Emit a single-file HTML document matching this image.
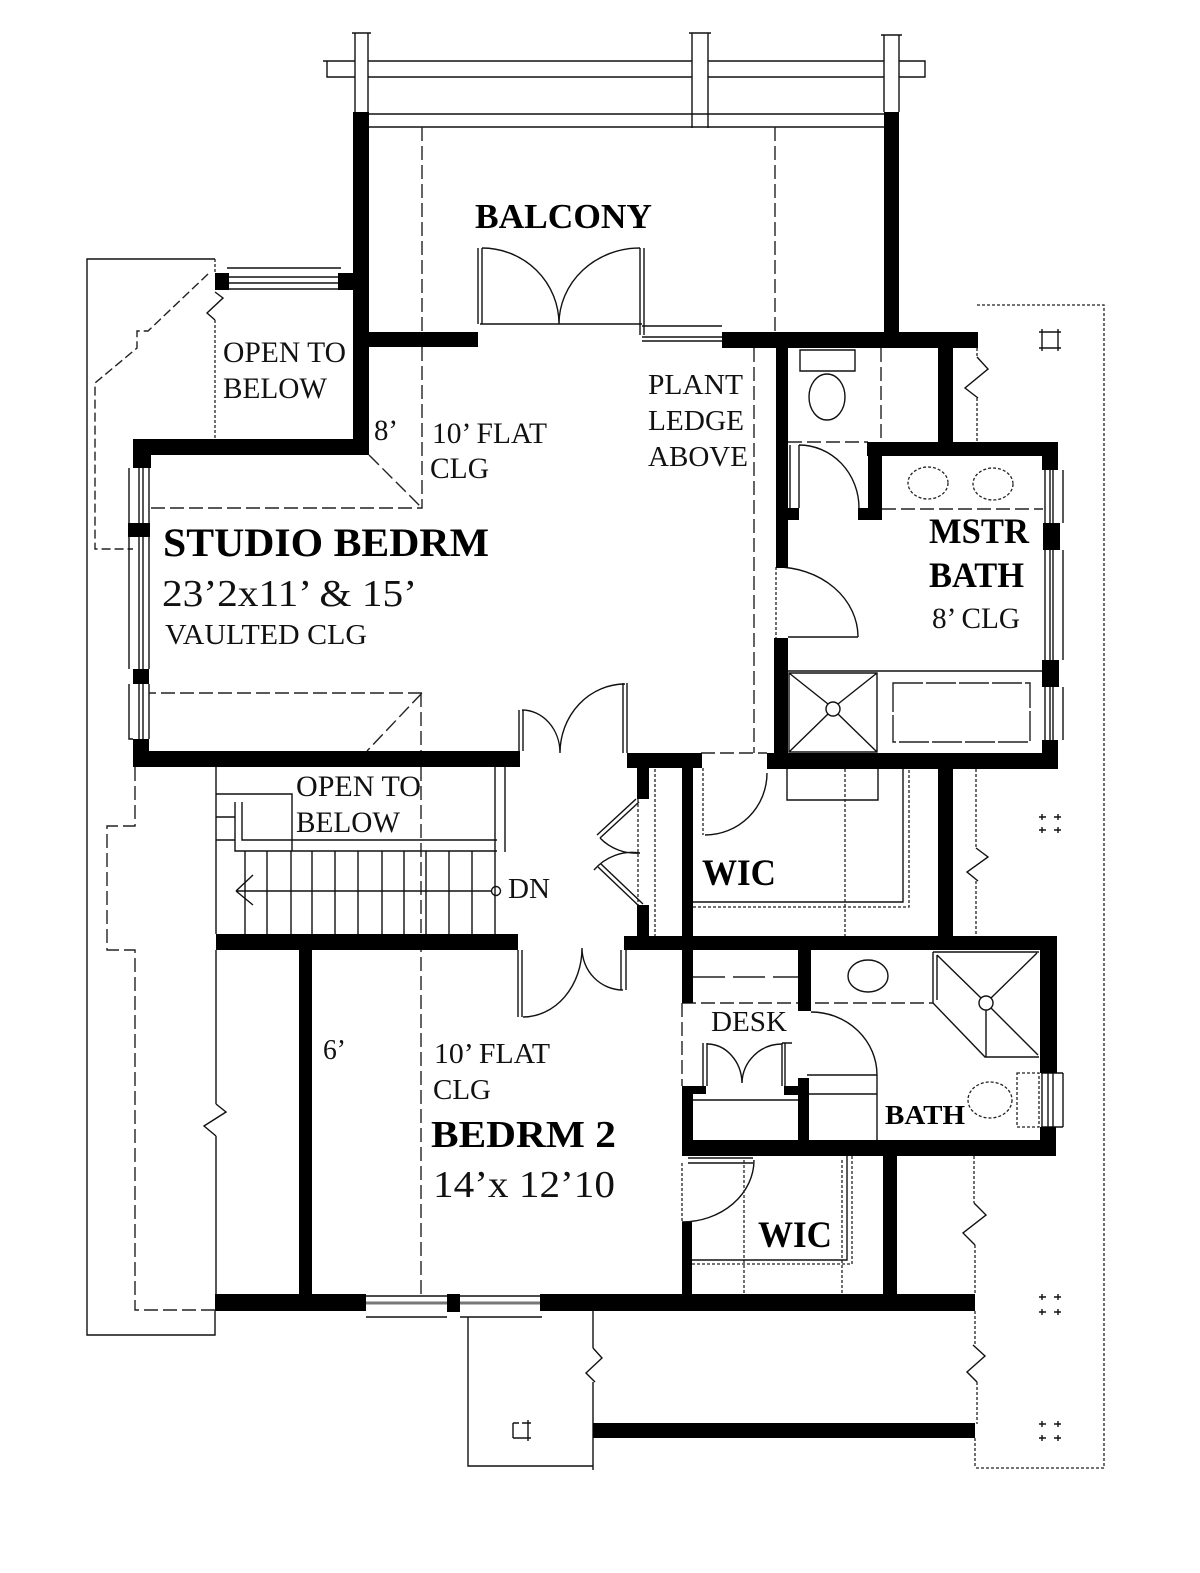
<!DOCTYPE html>
<html><head><meta charset="utf-8"><style>
html,body{margin:0;padding:0;background:#fff}
svg{display:block}
text{font-family:"Liberation Serif",serif;fill:#111}
.b{font-weight:bold;fill:#000}
.l{fill:none;stroke:#111;stroke-width:1.4}
.d{fill:none;stroke:#222;stroke-width:1.4;stroke-dasharray:14 5}
.s{fill:none;stroke:#222;stroke-width:1.3;stroke-dasharray:3 2}
</style></head><body>
<svg width="1200" height="1573" viewBox="0 0 1200 1573" xmlns="http://www.w3.org/2000/svg">
<rect width="1200" height="1573" fill="#fff"/>
<!-- pergola -->
<path class="l" d="M355 33V112M368 33V112M692 33V128M708 33V128M884 35V112M899 35V112M352 33H371M689 33H711M881 35H902"/>
<path class="l" d="M323 61H355M368 61H692M708 61H884M899 61H925V77H899M884 77H708M692 77H368M355 77H327V61"/>
<path class="l" d="M369 114H884M369 127H884"/>
<!-- outer left outline -->
<path class="l" d="M215 259H87V1335H215V1311"/>
<path class="s" d="M215 259V273M215 320V439"/>
<path class="l" d="M215 292L223 298L207 313L215 320"/>
<path class="d" style="stroke-dasharray:9 4" d="M208 274L148 331H137V348L95 383V549H133"/>
<path class="d" d="M135 767V826H107V950H135V1310H215"/>
<path class="l" d="M216 767V934M216 950V1104M216 1136V1294M216 1104L226 1112L204 1126L216 1136"/>
<!-- outer right outline -->
<path class="s" d="M977 305H1104V1468H976"/>
<path class="s" d="M977 348V357M977 398V442M976 769V848M976 881V937M974 1156V1203M975 1245V1294M975 1311V1345M977 1382V1424M975 1438V1468"/>
<path class="l" d="M977 357L988 369L965 388L978 398M976 848L988 857L967 872L978 881M974 1203L986 1215L963 1233L975 1245M973 1345L985 1356L967 1372L977 1382"/>
<!-- posts -->
<path class="l" d="M1039 332H1061M1039 348H1061M1042 329V351M1058 329V351"/>
<path class="l" d="M1039 817H1046M1054 817H1061M1039 830H1046M1054 830H1061M1042 814V820M1058 814V820M1042 827V833M1058 827V833"/>
<path class="l" d="M1039 1297H1046M1054 1297H1061M1039 1312H1046M1054 1312H1061M1042 1294V1300M1058 1294V1300M1042 1309V1315M1058 1309V1315"/>
<path class="l" d="M1039 1424H1046M1054 1424H1061M1039 1438H1046M1054 1438H1061M1042 1421V1427M1058 1421V1427M1042 1435V1441M1058 1435V1441"/>
<path class="l" d="M513 1423H519M522 1423H531M513 1438H531M513 1423V1438M528 1420V1441"/>
<!-- porch -->
<path class="l" d="M468 1317V1466H593"/>
<path class="l" d="M593 1311V1348M593 1382V1470M593 1348L602 1358L586 1373L595 1382"/>
<!-- ceiling dashes -->
<path class="d" d="M422 127V332M422 347V508H150M369 455L422 508M775 127V332M422 693H149M422 693L367 751M421 693V751M421 767V1294M754 348V753M701 753H767"/>
<!-- balcony doors -->
<path class="l" d="M478 248V324M482 248V324M480 324H642M640 248V335M644 248V335"/>
<path class="l" d="M482 248A77 76 0 0 1 559 324M640 248A81 76 0 0 0 559 324"/>
<path class="l" d="M642 326H722M642 337H722M642 341H722"/>
<!-- top-left window -->
<path class="l" d="M227 268H341M229 277H338M229 283H338M229 289H338"/>
<!-- studio windows -->
<path class="l" d="M129 468V523M139 468V523M143 468V523M149 468V523M129 537V669M139 537V669M143 537V669M149 537V669M129 684V739H133M139 684V739M143 684V739M149 684V739"/>
<!-- right master windows -->
<path class="l" d="M1045 470V523M1050 470V523M1053 470V523M1063 470V523M1045 550V660M1050 550V660M1053 550V660M1063 550V660M1045 687V740M1050 687V740M1053 687V740M1063 687V740"/>
<!-- master bath -->
<path class="l" d="M800 350H855V371H800Z"/>
<ellipse class="l" cx="827" cy="397" rx="18" ry="23"/>
<path class="d" d="M881 348V442M788 442H868M882 509H1043"/>
<path class="l" d="M790 445V508M799 445V508M799 445A60 63 0 0 1 859 508"/>
<path class="l" d="M776 567A82 70 0 0 1 858 637M788 637H858"/>
<path class="s" d="M776 567V638"/>
<ellipse class="s" cx="928" cy="483" rx="20" ry="16"/>
<ellipse class="s" cx="993" cy="484" rx="20" ry="16"/>
<path class="l" d="M788 671H1042"/>
<path class="l" d="M789 673H877V752H789ZM789 673L828 704M877 673L838 704M789 752L828 714M877 752L838 714"/>
<circle class="l" cx="833" cy="709" r="7"/>
<path class="d" style="stroke-dasharray:30 3" d="M893 683H1030V742H893Z"/>
<!-- master WIC -->
<path class="l" d="M767 773A62 62 0 0 1 705 835"/>
<path class="s" d="M703 768V835"/>
<path class="l" d="M787 769V800H878V769M693 902H903V769"/>
<path class="s" d="M693 907H909V769"/>
<path class="s" d="M845 769V936M655 769V936M638 799V905"/>
<!-- hall doors -->
<path class="l" d="M519 710V751M523 710V751M623 683V753M627 683V753"/>
<path class="l" d="M522 710A38 43 0 0 1 560 753M625 684A65 69 0 0 0 560 753"/>
<path class="l" d="M518 950V1017M522 950V1017M621 950V990M626 950V990"/>
<path class="l" d="M523 1017A59 69 0 0 0 582 948M623 990A41 42 0 0 1 582 948"/>
<!-- bifold -->
<path class="l" d="M639 802L600 838M636 799L597 835M600 838A50 50 0 0 0 640 853M640 853A50 50 0 0 0 594 870M598 867L640 907M601 864L643 904"/>
<!-- stairs -->
<path class="l" d="M245 851V934M267 851V934M291 851V934M312 851V934M335 851V934M358 851V934M382 851V934M404 851V934M426 851V934M449 851V934M472 851V934M495 851V934"/>
<path class="l" d="M235 802V851H497M242 802V840H497M216 794H292V851M216 817H235M216 840H235M495 767V851M505 767V852"/>
<path class="l" d="M236 891H491M236 891L253 875M236 891L253 905"/>
<circle class="l" cx="496" cy="891" r="4.5"/>
<!-- bed 2 built-ins -->
<path class="d" style="stroke-dasharray:32 8" d="M693 977H798"/>
<path class="d" d="M682 1003H933M682 1003V1086"/>
<path class="l" d="M703 1043V1086M707 1043V1086M782 1043V1086M785 1043V1086M782 1043H792"/>
<path class="l" d="M707 1044A35 40 0 0 1 742 1083M782 1044A40 40 0 0 0 742 1083"/>
<path class="l" d="M693 1100H798"/>
<ellipse class="l" cx="868" cy="976" rx="20" ry="16"/>
<path class="l" d="M933 952H1039M933 952V1003L985 1057H1039M937 955V1000M937 955L981 998M1037 953L991 998M986 1010V1057M991 1008L1038 1055"/>
<circle class="l" cx="986" cy="1003" r="7"/>
<path class="l" d="M811 1012A66 63 0 0 1 877 1075M807 1075H877M809 1094H877M877 1075V1140"/>
<ellipse class="s" cx="990" cy="1100" rx="22" ry="18"/>
<path class="s" d="M1017 1073H1039V1127H1017Z"/>
<path class="l" d="M1041 1073H1063M1041 1127H1063M1042 1073V1127M1048 1073V1127M1053 1073V1127M1063 1073V1127"/>
<path class="l" d="M754 1160A72 62 0 0 1 682 1222M688 1158H753M688 1163H753"/>
<path class="s" d="M682 1163V1222M744 1160V1295M842 1160V1295"/>
<path class="l" d="M692 1260H847V1156"/>
<path class="s" d="M692 1264H852V1156"/>
<!-- bottom windows -->
<path class="l" d="M366 1296H447M366 1317H447M460 1296H542M460 1317H542"/>
<path d="M366 1303H447M460 1303H542" stroke="#777" stroke-width="3" fill="none"/>
<!-- walls -->
<g fill="#000">
<rect x="353" y="112" width="16" height="343"/>
<rect x="369" y="332" width="109" height="15"/>
<rect x="215" y="273" width="14" height="17"/>
<rect x="338" y="273" width="15" height="17"/>
<rect x="133" y="439" width="236" height="16"/>
<rect x="133" y="439" width="18" height="29"/>
<rect x="128" y="523" width="22" height="14"/>
<rect x="133" y="669" width="16" height="15"/>
<rect x="133" y="739" width="16" height="28"/>
<rect x="133" y="751" width="387" height="16"/>
<rect x="216" y="934" width="302" height="16"/>
<rect x="299" y="950" width="13" height="345"/>
<rect x="215" y="1294" width="151" height="17"/>
<rect x="447" y="1294" width="13" height="18"/>
<rect x="540" y="1294" width="435" height="17"/>
<rect x="593" y="1423" width="382" height="15"/>
<rect x="884" y="112" width="15" height="222"/>
<rect x="722" y="332" width="256" height="16"/>
<rect x="776" y="348" width="12" height="220"/>
<rect x="788" y="508" width="11" height="12"/>
<rect x="774" y="638" width="14" height="118"/>
<rect x="767" y="753" width="291" height="16"/>
<rect x="1042" y="740" width="16" height="29"/>
<rect x="1042" y="660" width="17" height="27"/>
<rect x="1043" y="523" width="17" height="27"/>
<rect x="1042" y="442" width="16" height="28"/>
<rect x="867" y="442" width="191" height="14"/>
<rect x="868" y="442" width="14" height="78"/>
<rect x="858" y="508" width="24" height="12"/>
<rect x="938" y="348" width="15" height="94"/>
<rect x="627" y="753" width="75" height="15"/>
<rect x="637" y="768" width="12" height="31"/>
<rect x="637" y="905" width="12" height="31"/>
<rect x="682" y="768" width="11" height="182"/>
<rect x="938" y="768" width="15" height="168"/>
<rect x="624" y="936" width="433" height="14"/>
<rect x="1040" y="936" width="17" height="137"/>
<rect x="1040" y="1127" width="16" height="29"/>
<rect x="682" y="950" width="11" height="53"/>
<rect x="798" y="950" width="13" height="61"/>
<rect x="682" y="1086" width="11" height="70"/>
<rect x="682" y="1086" width="24" height="8"/>
<rect x="784" y="1086" width="25" height="9"/>
<rect x="798" y="1078" width="11" height="62"/>
<rect x="682" y="1140" width="374" height="16"/>
<rect x="682" y="1222" width="10" height="74"/>
<rect x="883" y="1156" width="14" height="140"/>
</g>
<!-- labels -->
<text class="b" x="475" y="228" font-size="35" textLength="177" lengthAdjust="spacingAndGlyphs">BALCONY</text>
<text x="223" y="362" font-size="30" textLength="123" lengthAdjust="spacingAndGlyphs">OPEN TO</text>
<text x="223" y="398" font-size="30" textLength="104" lengthAdjust="spacingAndGlyphs">BELOW</text>
<text x="374" y="440" font-size="30" textLength="24" lengthAdjust="spacingAndGlyphs">8’</text>
<text x="432" y="443" font-size="30" textLength="115" lengthAdjust="spacingAndGlyphs">10’ FLAT</text>
<text x="430" y="478" font-size="30" textLength="59" lengthAdjust="spacingAndGlyphs">CLG</text>
<text x="648" y="394" font-size="29" textLength="95" lengthAdjust="spacingAndGlyphs">PLANT</text>
<text x="648" y="430" font-size="29" textLength="96" lengthAdjust="spacingAndGlyphs">LEDGE</text>
<text x="648" y="466" font-size="29" textLength="100" lengthAdjust="spacingAndGlyphs">ABOVE</text>
<text class="b" x="163" y="556" font-size="40" textLength="326" lengthAdjust="spacingAndGlyphs">STUDIO BEDRM</text>
<text x="162" y="606" font-size="38" textLength="255" lengthAdjust="spacingAndGlyphs">23’2x11’ &amp; 15’</text>
<text x="165" y="644" font-size="29" textLength="202" lengthAdjust="spacingAndGlyphs">VAULTED CLG</text>
<text class="b" x="929" y="543" font-size="36" textLength="100" lengthAdjust="spacingAndGlyphs">MSTR</text>
<text class="b" x="929" y="587" font-size="36" textLength="95" lengthAdjust="spacingAndGlyphs">BATH</text>
<text x="932" y="628" font-size="30" textLength="88" lengthAdjust="spacingAndGlyphs">8’ CLG</text>
<text x="296" y="796" font-size="30" textLength="125" lengthAdjust="spacingAndGlyphs">OPEN TO</text>
<text x="296" y="832" font-size="30" textLength="104" lengthAdjust="spacingAndGlyphs">BELOW</text>
<text x="508" y="898" font-size="29" textLength="42" lengthAdjust="spacingAndGlyphs">DN</text>
<text class="b" x="702" y="885" font-size="37" textLength="74" lengthAdjust="spacingAndGlyphs">WIC</text>
<text x="711" y="1031" font-size="29" textLength="76" lengthAdjust="spacingAndGlyphs">DESK</text>
<text x="323" y="1059" font-size="29" textLength="23" lengthAdjust="spacingAndGlyphs">6’</text>
<text x="434" y="1063" font-size="29" textLength="116" lengthAdjust="spacingAndGlyphs">10’ FLAT</text>
<text x="433" y="1099" font-size="29" textLength="58" lengthAdjust="spacingAndGlyphs">CLG</text>
<text class="b" x="431" y="1147" font-size="38" textLength="185" lengthAdjust="spacingAndGlyphs">BEDRM 2</text>
<text x="433" y="1197" font-size="38" textLength="182" lengthAdjust="spacingAndGlyphs">14’x 12’10</text>
<text class="b" x="885" y="1124" font-size="27" textLength="80" lengthAdjust="spacingAndGlyphs">BATH</text>
<text class="b" x="758" y="1247" font-size="37" textLength="74" lengthAdjust="spacingAndGlyphs">WIC</text>
</svg>
</body></html>
